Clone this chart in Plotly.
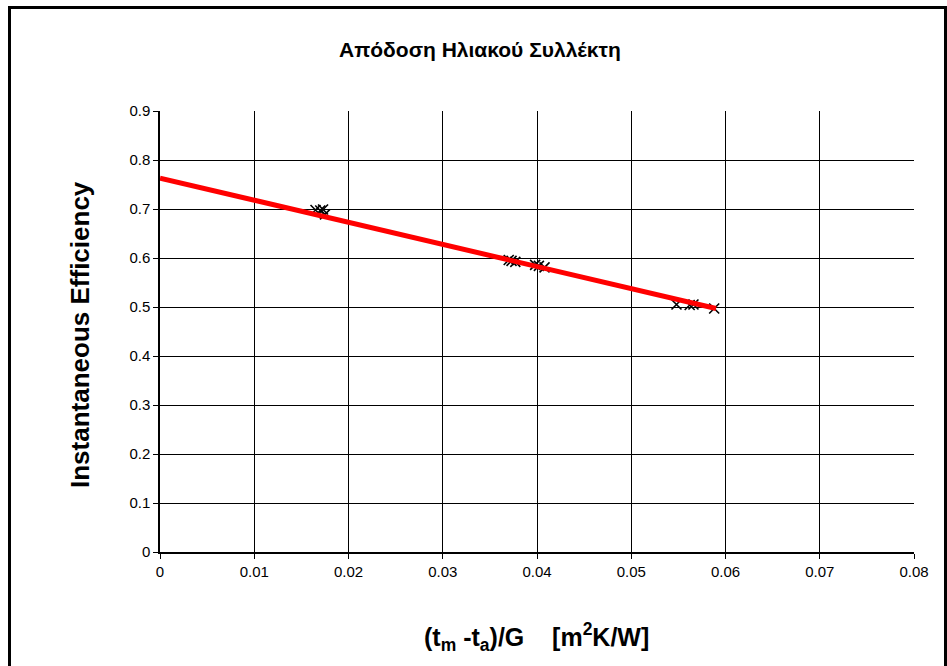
import plotly.graph_objects as go

# measured points
x_vals = [0.0165, 0.0170, 0.0173, 0.0175, 0.0370, 0.0373, 0.0377, 0.0398, 0.0402, 0.0408,
          0.0548, 0.0562, 0.0566, 0.0588]
y_vals = [0.698, 0.697, 0.699, 0.689, 0.596, 0.594, 0.592, 0.586, 0.584, 0.581,
          0.505, 0.504, 0.505, 0.497]

# fitted line endpoints
fit_x = [0.0, 0.059]
fit_y = [0.763, 0.497]

x_ticks = [0, 0.01, 0.02, 0.03, 0.04, 0.05, 0.06, 0.07, 0.08]
y_ticks = [0, 0.1, 0.2, 0.3, 0.4, 0.5, 0.6, 0.7, 0.8, 0.9]

title_text = "Απόδοση Ηλιακού Συλλέκτη"
x_title = "(t<sub>m</sub> -t<sub>a</sub>)/G&nbsp;&nbsp;&nbsp;&nbsp;[m<sup>2</sup>K/W]"
y_title = "Instantaneous Efficiency"

FONT = "Liberation Sans, Arial, sans-serif"

fig = go.Figure()
fig.add_trace(go.Scatter(
    x=x_vals, y=y_vals, mode="markers",
    marker=dict(symbol="x-thin", size=10, line=dict(color="black", width=1.6)),
    showlegend=False))
fig.add_trace(go.Scatter(
    x=fit_x, y=fit_y, mode="lines",
    line=dict(color="#ff0000", width=5), showlegend=False))

L, R, T, B = 160, 33, 111, 114
W, H = 947, 666
pw, ph = W - L - R, H - T - B


def px(xp):
    return (xp - L) / pw


def py(yp):
    return (H - B - yp) / ph


fig.update_layout(
    width=W, height=H,
    margin=dict(l=L, r=R, t=T, b=B),
    paper_bgcolor="white", plot_bgcolor="white",
    font=dict(family=FONT, color="black", size=15),
    xaxis=dict(range=[0, 0.08], tickvals=x_ticks,
               ticktext=[("%g" % v) for v in x_ticks],
               showgrid=True, gridcolor="#000000", gridwidth=1,
               showline=True, linecolor="black", linewidth=1.5,
               ticks="outside", ticklen=5, tickcolor="black",
               zeroline=False),
    yaxis=dict(range=[0, 0.9], tickvals=y_ticks,
               ticktext=[("%g" % v) for v in y_ticks],
               showgrid=True, gridcolor="#000000", gridwidth=1,
               showline=True, linecolor="black", linewidth=1.5,
               ticks="outside", ticklen=5, tickcolor="black",
               zeroline=False),
)

fig.add_annotation(text="<b>" + title_text + "</b>", xref="paper", yref="paper",
                   x=px(480), y=py(50), xanchor="center", yanchor="middle",
                   showarrow=False, font=dict(size=21, family=FONT))
fig.add_annotation(text="<b>" + y_title + "</b>", xref="paper", yref="paper",
                   x=px(80), y=py(335), xanchor="center", yanchor="middle",
                   textangle=-90, showarrow=False, font=dict(size=26, family=FONT))
fig.add_annotation(text="<b>" + x_title + "</b>", xref="paper", yref="paper",
                   x=px(422), y=py(637), xanchor="left", yanchor="middle",
                   showarrow=False, font=dict(size=25, family=FONT))

# outer chart border
fig.add_shape(type="rect", xref="paper", yref="paper",
              x0=px(9.5), x1=px(945.5), y0=py(700), y1=py(7.5),
              line=dict(color="black", width=3), layer="below")

fig.write_html("out.html", config={"displayModeBar": False},
               post_script="document.body.style.margin='0';document.body.style.overflow='hidden';")
